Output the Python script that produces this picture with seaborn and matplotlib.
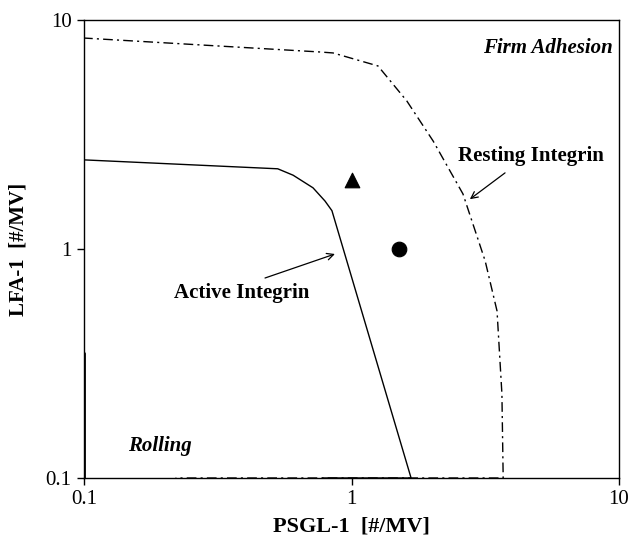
import matplotlib
matplotlib.use("Agg")
import matplotlib.pyplot as plt
import seaborn as sns
import pandas as pd

# Adhesion boundaries in the PSGL-1 / LFA-1 plane (log-log)
active_psgl = [0.1, 0.53, 0.605, 0.718, 0.796, 0.845, 1.67, 0.78]
active_lfa = [2.45, 2.24, 2.10, 1.85, 1.62, 1.47, 0.1, 0.1]
active_edge_psgl = [0.1, 0.1]
active_edge_lfa = [0.1, 0.35]

resting_psgl = [0.1, 0.1, 0.762, 0.853, 1.256, 1.61, 2.02, 2.61, 3.16, 3.50, 3.65, 3.69, 0.22]
resting_lfa = [2.45, 8.34, 7.25, 7.18, 6.3, 4.43, 2.96, 1.74, 0.887, 0.536, 0.233, 0.1, 0.1]

# Individual cell states
tri_psgl, tri_lfa = [1.0], [2.0]
dot_psgl, dot_lfa = [1.5], [1.0]

ticks = [0.1, 1, 10]
tick_labels = ["0.1", "1", "10"]

sns.set_theme(style="white")
plt.rcParams["font.family"] = ["Liberation Serif", "DejaVu Serif"]
plt.rcParams["text.color"] = "black"
plt.rcParams["axes.labelcolor"] = "black"
plt.rcParams["xtick.color"] = "black"
plt.rcParams["ytick.color"] = "black"

fig = plt.figure(figsize=(6.31, 5.39), dpi=100)
ax = fig.add_axes([84 / 631, 61 / 539, 535 / 631, 458 / 539])
ax.set_xscale("log")
ax.set_yscale("log")

active = pd.DataFrame({"psgl": active_psgl, "lfa": active_lfa})
resting = pd.DataFrame({"psgl": resting_psgl, "lfa": resting_lfa})
edge = pd.DataFrame({"psgl": active_edge_psgl, "lfa": active_edge_lfa})

sns.lineplot(data=active, x="psgl", y="lfa", sort=False, estimator=None,
             color="black", lw=1.0, ax=ax)
sns.lineplot(data=edge, x="psgl", y="lfa", sort=False, estimator=None,
             color="black", lw=2.0, ax=ax)
sns.lineplot(data=resting, x="psgl", y="lfa", sort=False, estimator=None,
             color="black", lw=1.0, linestyle=(0, (7, 3, 1.5, 3)), ax=ax)

sns.scatterplot(x=tri_psgl, y=tri_lfa, marker="^", s=110, color="black",
                edgecolor="black", ax=ax, zorder=5)
sns.scatterplot(x=dot_psgl, y=dot_lfa, marker="o", s=110, color="black",
                edgecolor="black", ax=ax, zorder=5)

ax.set_xlim(0.1, 10)
ax.set_ylim(0.1, 10)
ax.set_xticks(ticks)
ax.set_xticklabels(tick_labels)
ax.set_yticks(ticks)
ax.set_yticklabels(tick_labels)
ax.minorticks_off()
ax.tick_params(axis="both", which="major", direction="out", length=5, width=1,
               color="black", labelsize=15, labelcolor="black", pad=4,
               bottom=True, left=True)
for sp in ax.spines.values():
    sp.set_color("black")
    sp.set_linewidth(1.0)

ax.set_xlabel("PSGL-1  [#/MV]", fontsize=16, fontweight="bold", labelpad=5,
              color="black")
ax.set_ylabel("LFA-1  [#/MV]", fontsize=15, fontweight="bold", labelpad=12,
              color="black")

ax.text(9.5, 7.55, "Firm Adhesion", ha="right", va="center", fontsize=15,
        fontweight="bold", fontstyle="italic", color="black")
ax.text(0.192, 0.138, "Rolling", ha="center", va="center", fontsize=15,
        fontweight="bold", fontstyle="italic", color="black")
ax.text(4.69, 2.55, "Resting Integrin", ha="center", va="center", fontsize=15,
        fontweight="bold", color="black")
ax.text(0.39, 0.642, "Active Integrin", ha="center", va="center", fontsize=15,
        fontweight="bold", color="black")

arrow = dict(arrowstyle="->", color="black", lw=0.9, shrinkA=0, shrinkB=0,
             mutation_scale=12)
ax.annotate("", xy=(0.867, 0.951), xytext=(0.475, 0.747), arrowprops=arrow)
ax.annotate("", xy=(2.77, 1.65), xytext=(3.75, 2.15), arrowprops=arrow)

fig.savefig("out.png", dpi=100)
